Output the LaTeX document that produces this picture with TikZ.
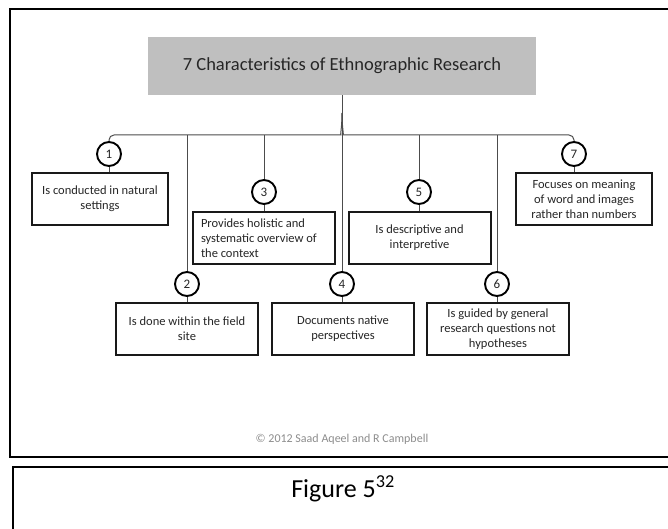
\documentclass[tikz,border=0pt]{standalone}
\usepackage{fontspec}
\setmainfont{Carlito}
\usetikzlibrary{calc}

\begin{document}
\begin{tikzpicture}[x=1pt, y=-1pt,
    box/.style={draw=black!90, line width=2pt, fill=white, minimum width=142pt,
        minimum height=52pt, align=center, inner sep=2pt, text=black!85,
        font=\fontsize{12.5}{15}\selectfont},
    num/.style={draw=black, line width=1.9pt, fill=white, circle, minimum size=24pt,
        inner sep=0pt, text=black!85, font=\fontsize{13}{15}\selectfont},
    link/.style={draw=black!70, line width=1pt}]

    % Fix the page size
    \useasboundingbox (0,0) rectangle (668,529);
    \clip (0,0) rectangle (668,529);

    % Outer frame and caption box
    \draw[line width=2pt] (10,9) rectangle (690,457);
    \draw[line width=2.6pt] (13,467) rectangle (690,560);

    % Title
    \node[fill=black!25, minimum width=388pt, minimum height=58pt, text=black!85,
        font=\fontsize{18.5}{20}\selectfont] (title) at (342,66)
        {7 Characteristics of Ethnographic Research};

    % Numbered circles
    \node[num] (c1) at (109,154) {1};
    \node[num] (c2) at (187,284) {2};
    \node[num] (c3) at (264,192) {3};
    \node[num] (c4) at (342,284) {4};
    \node[num] (c5) at (419,192) {5};
    \node[num] (c6) at (497,284) {6};
    \node[num] (c7) at (574,154) {7};

    % Characteristic boxes
    \node[box, minimum width=136pt] (b1) at (100,199) {Is conducted in natural\\settings};
    \node[box] (b2) at (187,329) {Is done within the field\\site};
    \node[box, align=flush left, text width=126pt, inner xsep=8pt] (b3) at (264,238)
        {Provides holistic and\\systematic overview of\\the context};
    \node[box] (b4) at (343,329) {Documents native\\perspectives};
    \node[box] (b5) at (419.5,238) {Is descriptive and\\interpretive};
    \node[box] (b6) at (498,329) {Is guided by general\\research questions not\\hypotheses};
    \node[box, minimum width=136pt] (b7) at (584,199)
        {Focuses on meaning\\of word and images\\rather than numbers};

    % Brace point and the two ends of the bus
    \coordinate (apex) at (342,113);
    \coordinate (busL) at (336,135);
    \coordinate (busR) at (348,135);

    % Stem and bus
    \draw[link] (title.south) -- (c4.north);
    \draw[link, rounded corners=5pt] (c1.north) |- (busL) [sharp corners]
        .. controls (340,135) and (342,128) .. (apex);
    \draw[link, rounded corners=5pt] (c7.north) |- (busR) [sharp corners]
        .. controls (344,135) and (342,128) .. (apex);

    % Drops from the bus
    \foreach \k in {2,3,5,6}
        \draw[link] (c\k.north) -- (c\k.north |- busL);

    % Circles to boxes
    \foreach \k in {1,...,7}
        \draw[link] (c\k.south) -- (c\k.south |- b\k.north);

    % Copyright line and caption
    \node[anchor=base, text=black!45, font=\fontsize{12}{14}\selectfont] (copy) at (342,442)
        {© 2012 Saad Aqeel and R Campbell};
    \node[anchor=base, font=\fontsize{26}{30}\selectfont] (caption) at (343,497)
        {Figure 5\textsuperscript{32}};
\end{tikzpicture}
\end{document}
